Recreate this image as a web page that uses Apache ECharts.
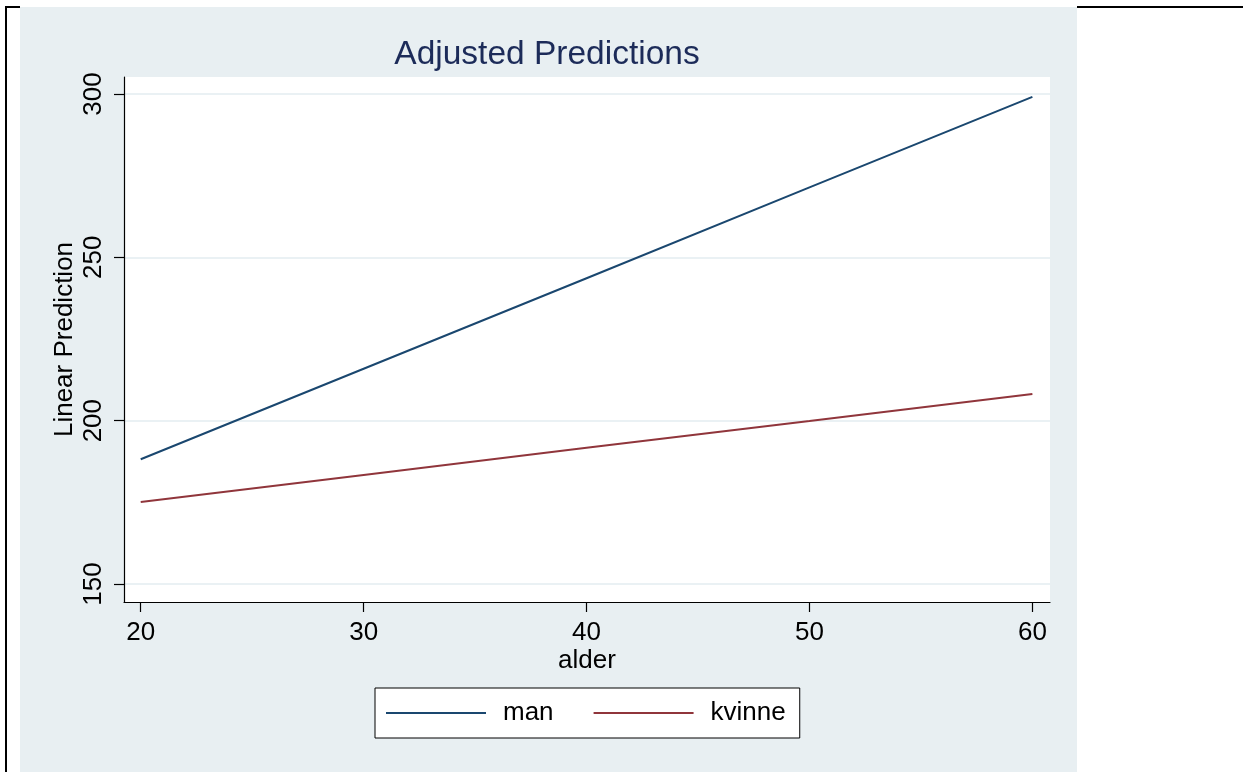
<!DOCTYPE html>
<html>
<head>
<meta charset="utf-8">
<script src="https://cdn.jsdelivr.net/npm/echarts@6/dist/echarts.min.js"></script>
<style>
html,body{margin:0;padding:0;background:#fff;}
#chart{width:1243px;height:772px;}
</style>
</head>
<body>
<div id="chart"></div>
<script>
const titleText = 'Adjusted Predictions';
const xName = 'alder';
const yName = 'Linear Prediction';
const seriesNames = ['man', 'kvinne'];
const alder = [20, 30, 40, 50, 60];
const manValues = [188.2, 215.9, 243.6, 271.4, 299.1];
const kvinneValues = [175.1, 183.4, 191.7, 199.9, 208.2];
const xTicks = [20, 30, 40, 50, 60];
const yTicks = [150, 200, 250, 300];

const FONT = '"Liberation Sans", Arial, sans-serif';
const BG = '#e8eff2';

const chart = echarts.init(document.getElementById('chart'), null, {renderer: 'canvas'});
chart.setOption({
  animation: false,
  backgroundColor: '#fff',
  graphic: [
    {type: 'rect', z: -10, shape: {x: 20, y: 7, width: 1057, height: 765}, style: {fill: BG}},
    {type: 'rect', z: -10, shape: {x: 5, y: 6, width: 2, height: 766}, style: {fill: '#000'}},
    {type: 'rect', z: -10, shape: {x: 5, y: 6, width: 15, height: 2}, style: {fill: '#000'}},
    {type: 'rect', z: -10, shape: {x: 1077, y: 6, width: 166, height: 2}, style: {fill: '#000'}}
  ],
  title: {
    text: titleText,
    left: 547,
    textAlign: 'center',
    top: 38,
    padding: 0,
    textStyle: {fontFamily: FONT, fontSize: 33.5, fontWeight: 'normal', color: '#1c2b59'}
  },
  grid: {
    left: 124, right: 193, top: 77, bottom: 170,
    show: true, backgroundColor: '#fff', borderWidth: 0,
    outerBoundsMode: 'none', containLabel: false
  },
  xAxis: {
    type: 'value',
    min: 19.25, max: 60.79,
    name: xName,
    nameLocation: 'middle',
    nameGap: 46,
    nameMoveOverlap: false,
    nameTextStyle: {fontFamily: FONT, fontSize: 26, color: '#000'},
    axisLine: {show: true, onZero: false, lineStyle: {color: '#000', width: 1.2}},
    axisTick: {show: true, length: 10, customValues: xTicks, lineStyle: {color: '#000', width: 1.2}},
    axisLabel: {customValues: xTicks, margin: 18, fontFamily: FONT, fontSize: 26, color: '#000'},
    splitLine: {show: false}
  },
  yAxis: {
    type: 'value',
    min: 144.5, max: 305.2,
    name: yName,
    nameLocation: 'middle',
    nameGap: 46,
    nameMoveOverlap: false,
    nameRotate: 90,
    nameTextStyle: {fontFamily: FONT, fontSize: 26, color: '#000'},
    axisLine: {show: true, onZero: false, lineStyle: {color: '#000', width: 1.2}},
    axisTick: {show: true, length: 10, customValues: yTicks, lineStyle: {color: '#000', width: 1.2}},
    axisLabel: {customValues: yTicks, rotate: 90, margin: 17, fontFamily: FONT, fontSize: 26, color: '#000'},
    splitLine: {show: true, lineStyle: {color: '#e3edf0', width: 1.5}}
  },
  legend: {
    left: 375, top: 688,
    orient: 'horizontal',
    itemWidth: 100, itemHeight: 2,
    itemGap: 40,
    padding: [12, 14, 12, 11],
    backgroundColor: '#fff',
    borderColor: '#000', borderWidth: 1, borderRadius: 0,
    textStyle: {fontFamily: FONT, fontSize: 26, color: '#000', padding: [0, 0, 0, 12]},
    data: [
      {name: seriesNames[0], icon: 'rect'},
      {name: seriesNames[1], icon: 'rect'}
    ]
  },
  series: [
    {
      name: seriesNames[0], type: 'line', symbol: 'none',
      data: alder.map((x, i) => [x, manValues[i]]),
      lineStyle: {color: '#1a476f', width: 2}, itemStyle: {color: '#1a476f'}
    },
    {
      name: seriesNames[1], type: 'line', symbol: 'none',
      data: alder.map((x, i) => [x, kvinneValues[i]]),
      lineStyle: {color: '#90353b', width: 2}, itemStyle: {color: '#90353b'}
    }
  ]
});
</script>
</body>
</html>
